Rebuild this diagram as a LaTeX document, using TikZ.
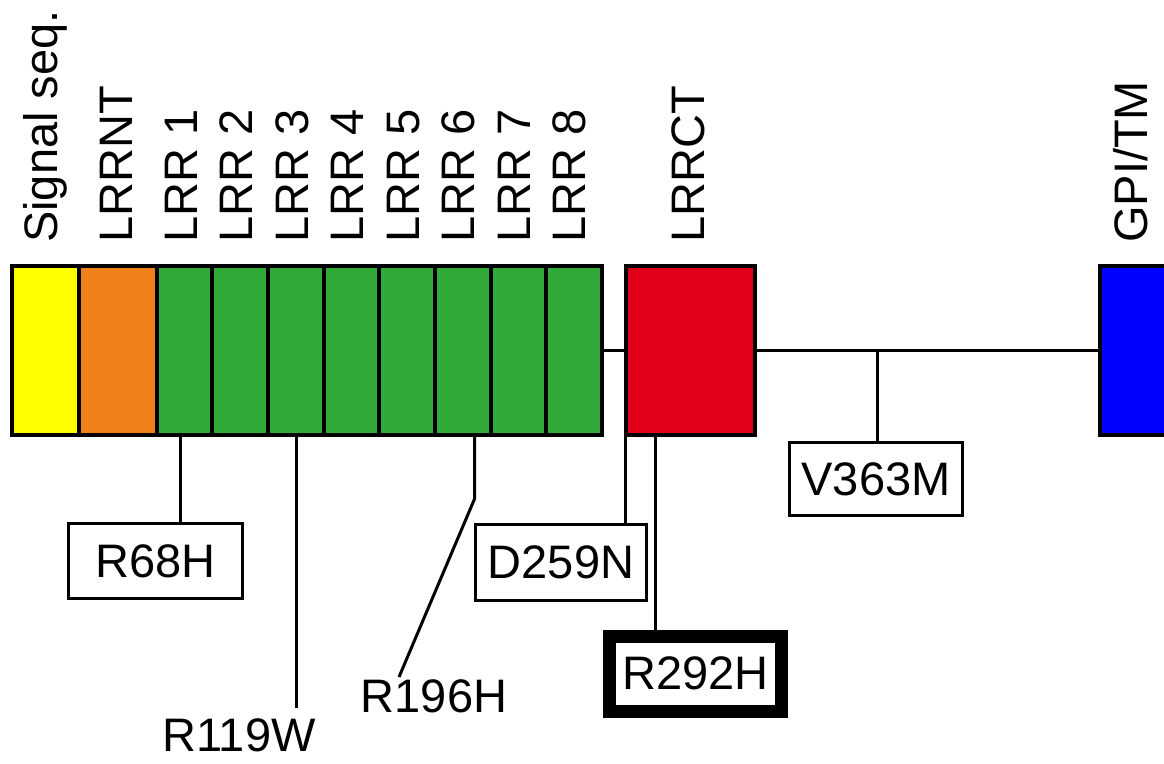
\documentclass[tikz,border=0pt]{standalone}
\usepackage{fontspec}
\setmainfont{Liberation Sans}
\definecolor{cyel}{RGB}{255,255,0}
\definecolor{corg}{RGB}{240,128,26}
\definecolor{cgrn}{RGB}{50,170,58}
\definecolor{cred}{RGB}{224,0,26}
\definecolor{cblu}{RGB}{0,0,255}
\begin{document}
\begin{tikzpicture}[x=1pt,y=-1pt,
  seg/.style={draw=black, line width=4pt, rectangle, inner sep=0pt, minimum height=169pt},
  lab/.style={font=\fontsize{47}{56}\selectfont, inner sep=0pt},
  vlab/.style={lab, rotate=90, anchor=base west},
  mut/.style={lab, draw=black, line width=3pt, rectangle},
  conn/.style={line width=3pt, line cap=butt}]
\useasboundingbox (0,0) rectangle (1164,763);
\clip (0,0) rectangle (1164,763);
% domains
\node[seg, fill=cyel, minimum width=67pt] (sig) at (45.5,350.5) {};
\node[seg, fill=corg, minimum width=77.5pt] (nt) at (117.75,350.5) {};
\foreach \i in {1,...,8}{
  \node[seg, fill=cgrn, minimum width=55.69pt] (lrr\i) at ({156.5+55.6875*(\i-0.5)},350.5) {};
}
\node[seg, fill=cred, minimum width=128.5pt] (lrrct) at (690.25,350.5) {};
\node[seg, fill=cblu, minimum width=100pt] (gpi) at (1150,350.5) {};
% top labels
\node[vlab] (tsig) at (57,243) {Signal seq.};
\node[vlab] (tnt) at (132,243) {LRRNT};
\foreach \i in {1,...,8}{
  \node[vlab] (tlrr\i) at ({197+55.5*(\i-1)},243) {LRR \i};
}
\node[vlab] (tct) at (704,243) {LRRCT};
\node[vlab] (tgpi) at (1147,243) {GPI/TM};
% backbone connectors
\draw[conn] (lrr8.east) -- (lrrct.west);
\draw[conn] (lrrct.east) -- (gpi.west);
% mutation labels
\node[mut, minimum width=174pt, minimum height=75pt] (r68h) at (155.5,561) {R68H};
\node[mut, minimum width=171pt, minimum height=76pt] (d259n) at (561,562.5) {D259N};
\node[mut, minimum width=173pt, minimum height=73pt] (v363m) at (876,479) {V363M};
\node[mut, line width=13pt, minimum width=172pt, minimum height=75.5pt] (r292h) at (695.5,673.75) {R292H};
\node[lab] (r119w) at (239,735) {R119W};
\node[lab] (r196h) at (434,696) {R196H};
% mutation connectors
\coordinate (p68) at (180,433);
\draw[conn] (p68) -- (p68 |- r68h.north);
\coordinate (p119) at (296,435);
\coordinate (e119) at (296,708);
\draw[conn] (p119) -- (e119);
\coordinate (p196) at (474.5,435);
\coordinate (k196) at (474.5,499);
\coordinate (e196) at (399,677);
\draw[conn] (p196) -- (k196) -- (e196);
\coordinate (p259) at (625,435);
\draw[conn] (p259) -- (p259 |- d259n.north);
\coordinate (p292) at (655.5,435);
\draw[conn] (p292) -- (p292 |- r292h.north);
\coordinate (p363) at (877,350.5);
\draw[conn] (p363) -- (p363 |- v363m.north);
\end{tikzpicture}
\end{document}
